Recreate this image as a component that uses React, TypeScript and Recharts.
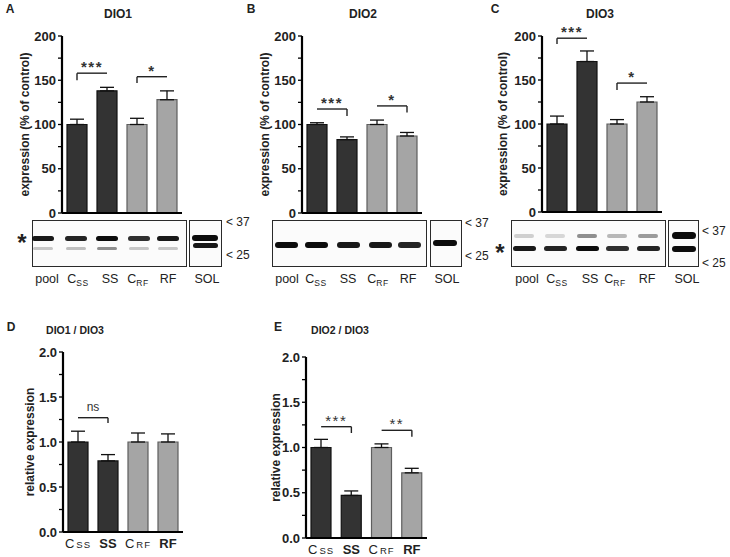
import React from 'react';
import { BarChart, Bar, XAxis, YAxis, Cell, ErrorBar, ReferenceLine } from 'recharts';

// ---------- data ----------
const groups = ['Css', 'SS', 'CRF', 'RF'];
const groupShade = ['dark', 'dark', 'light', 'light'];

const dio1Values = [100, 138, 100, 128];
const dio1Errors = [6, 4, 7, 10];
const dio2Values = [100, 83, 100, 87];
const dio2Errors = [2, 3, 5, 4];
const dio3Values = [100, 171, 100, 125];
const dio3Errors = [9, 12, 5, 6];
const dio1dio3Values = [1.0, 0.79, 1.0, 1.0];
const dio1dio3Errors = [0.12, 0.07, 0.1, 0.09];
const dio2dio3Values = [1.0, 0.47, 1.0, 0.72];
const dio2dio3Errors = [0.09, 0.05, 0.04, 0.05];

const percentTicks = [0, 25, 50, 75, 100, 125, 150, 175, 200];
const percentMajor = [0, 50, 100, 150, 200];
const ratioTicks = [0, 0.25, 0.5, 0.75, 1, 1.25, 1.5, 1.75, 2];
const ratioMajor = [0, 0.5, 1, 1.5, 2];

const dio1Brackets = [
  { from: 'Css', to: 'SS', y: 158, tickAt: 'Css', tickTo: 150, text: '***' },
  { from: 'CRF', to: 'RF', y: 154, tickAt: 'CRF', tickTo: 147, text: '*' },
];
const dio2Brackets = [
  { from: 'Css', to: 'SS', y: 117.5, tickAt: 'SS', tickTo: 109.5, text: '***' },
  { from: 'CRF', to: 'RF', y: 121, tickAt: 'RF', tickTo: 113.5, text: '*' },
];
const dio3Brackets = [
  { from: 'Css', to: 'SS', y: 197.5, tickAt: 'Css', tickTo: 191, text: '***' },
  { from: 'CRF', to: 'RF', y: 146.5, tickAt: 'CRF', tickTo: 138.5, text: '*' },
];
const dio1dio3Brackets = [
  { from: 'Css', to: 'SS', y: 1.27, tickAt: 'SS', tickTo: 1.21, text: 'ns' },
];
const dio2dio3Brackets = [
  { from: 'Css', to: 'SS', y: 1.23, tickAt: 'SS', tickTo: 1.16, text: '***' },
  { from: 'CRF', to: 'RF', y: 1.19, tickAt: 'RF', tickTo: 1.12, text: '**' },
];

// blot lane labels and relative band intensities
const blotLanes = ['pool', 'Css', 'SS', 'CRF', 'RF'];
const dio1UpperBand = [0.95, 0.9, 1.0, 0.85, 0.95];
const dio1LowerBand = [0.22, 0.25, 0.45, 0.22, 0.22];
const dio2Band = [1.0, 1.0, 0.95, 0.95, 0.9];
const dio3UpperBand = [0.18, 0.15, 0.45, 0.28, 0.4];
const dio3LowerBand = [0.95, 0.9, 1.0, 0.85, 0.9];

// ---------- styles ----------
const FONT = "'Liberation Sans', Arial, sans-serif";
const FILL = { dark: '#333333', light: '#a5a5a5' };
const STROKE = { dark: '#111111', light: '#5e5e5e' };

const YTick = (props: any) => {
  const { x, y, payload, majors, fmt } = props;
  const isMajor = majors.some((m: number) => Math.abs(m - payload.value) < 1e-6);
  if (!isMajor) return <g />;
  return (
    <text x={x} y={y} textAnchor="end" dominantBaseline="central" fontSize={13} fontWeight="bold" fill="#222">
      {fmt(payload.value)}
    </text>
  );
};

const GroupTick = (props: any) => {
  const { x, y, payload } = props;
  const v: string = payload.value;
  const by = y + 8;
  if (v === 'Css' || v === 'CRF') {
    return (
      <text x={x} y={by} textAnchor="middle" fill="#222">
        <tspan fontSize={13}>C</tspan>
        <tspan fontSize={9.5} dx={2} letterSpacing={1}>{v.slice(1).toUpperCase()}</tspan>
      </text>
    );
  }
  return (
    <text x={x} y={by} textAnchor="middle" fontSize={13} fontWeight="bold" fill="#222">
      {v}
    </text>
  );
};

function Panel(p: any) {
  const { values, errors, brackets, ticks, majors, fmt, domain, box, plot, yLabel, labelX, showGroupTicks, starWeight } = p;
  const data = groups.map((g, i) => ({ name: g, value: values[i], err: [0, errors[i]] }));
  const yw = 30;
  const xh = showGroupTicks ? 18 : 4;
  const margin = {
    top: plot.top - box.top,
    left: plot.left - box.left - yw,
    right: box.left + box.width - plot.right,
    bottom: box.top + box.height - plot.bottom - xh,
  };
  const lx = labelX - box.left;
  return (
    <div style={{ position: 'absolute', left: box.left, top: box.top }}>
      <BarChart width={box.width} height={box.height} data={data} margin={margin} barSize={20} barCategoryGap={0}>
        <XAxis
          dataKey="name"
          height={xh}
          interval={0}
          axisLine={{ stroke: '#000', strokeWidth: 2.2 }}
          tickLine={false}
          tick={showGroupTicks ? (tp: any) => <GroupTick {...tp} /> : false}
        />
        <YAxis
          width={yw}
          domain={domain}
          ticks={ticks}
          interval={0}
          allowDataOverflow
          axisLine={{ stroke: '#000', strokeWidth: 2.2 }}
          tickLine={{ stroke: '#000', strokeWidth: 1.3 }}
          tickSize={4}
          tickMargin={2}
          tick={(tp: any) => <YTick {...tp} majors={majors} fmt={fmt} />}
          label={(lp: any) => {
            const vb = lp.viewBox || {};
            const cy = vb.y + vb.height / 2;
            return (
              <text
                x={lx}
                y={cy}
                transform={`rotate(-90, ${lx}, ${cy})`}
                textAnchor="middle"
                dominantBaseline="central"
                fontSize={12}
                fontWeight="bold"
                fill="#222"
              >
                {yLabel}
              </text>
            );
          }}
        />
        <Bar dataKey="value" isAnimationActive={false}>
          {data.map((d, i) => (
            <Cell key={d.name} fill={FILL[groupShade[i]]} stroke={STROKE[groupShade[i]]} strokeWidth={1.2} />
          ))}
          <ErrorBar dataKey="err" direction="y" width={7} stroke="#111" strokeWidth={1.3} />
        </Bar>
        {brackets.map((b: any, i: number) => (
          <ReferenceLine
            key={'h' + i}
            segment={[{ x: b.from, y: b.y }, { x: b.to, y: b.y }]}
            stroke="#222"
            strokeWidth={1.4}
            label={(lp: any) => {
              const vb = lp.viewBox || {};
              const cx = vb.x + vb.width / 2;
              const isNs = b.text === 'ns';
              return (
                <text
                  x={cx}
                  y={vb.y - (isNs ? 7 : 1)}
                  textAnchor="middle"
                  fontSize={isNs ? 12 : 15}
                  fontWeight={isNs ? 'normal' : starWeight}
                  letterSpacing={isNs ? 0 : 1.5}
                  fill="#333"
                >
                  {b.text}
                </text>
              );
            }}
          />
        ))}
        {brackets.map((b: any, i: number) => (
          <ReferenceLine
            key={'v' + i}
            segment={[{ x: b.tickAt, y: b.y }, { x: b.tickAt, y: b.tickTo }]}
            stroke="#222"
            strokeWidth={1.4}
          />
        ))}
      </BarChart>
    </div>
  );
}

const Txt = (p: any) => (
  <div
    style={{
      position: 'absolute',
      left: p.x,
      top: p.y,
      transform: p.anchor === 'start' ? 'translate(0,-50%)' : 'translate(-50%,-50%)',
      whiteSpace: 'nowrap',
      lineHeight: 1,
      fontSize: p.size || 12,
      fontWeight: p.bold ? 'bold' : 'normal',
      color: p.color || '#222',
    }}
  >
    {p.children}
  </div>
);

const LaneLabel = ({ name }: { name: string }) => {
  if (name === 'Css' || name === 'CRF') {
    return (
      <span>
        C<span style={{ fontSize: 8.5, position: 'relative', top: 3, letterSpacing: 0.5 }}>{name.slice(1).toUpperCase()}</span>
      </span>
    );
  }
  return <span>{name}</span>;
};

const Band = ({ cx, cy, w, h, a }: any) => (
  <div
    style={{
      position: 'absolute',
      left: cx - w / 2,
      top: cy - h / 2,
      width: w,
      height: h,
      borderRadius: h / 2,
      background: `rgba(12,12,12,${a})`,
      filter: 'blur(0.7px)',
    }}
  />
);

function Blot(p: any) {
  const { box, sol, lanes, rows, solBands, labelXs, solLabelX, m37, m25, markerX, starAt } = p;
  const frame = (l: number, w: number) => (
    <div
      style={{
        position: 'absolute',
        left: l,
        top: box.top,
        width: w,
        height: box.height,
        border: '1.5px solid #2a2a2a',
        boxSizing: 'border-box',
        background: '#fbfbfb',
      }}
    />
  );
  return (
    <>
      {frame(box.left, box.width)}
      {frame(sol.left, sol.width)}
      {rows.map((r: any, ri: number) =>
        lanes.map((cx: number, li: number) => (
          <Band key={ri + '-' + li} cx={cx} cy={r.cy} w={r.w} h={r.h} a={r.intens[li]} />
        ))
      )}
      {solBands.map((b: any, i: number) => (
        <Band key={'s' + i} {...b} />
      ))}
      {blotLanes.map((n, i) => (
        <Txt key={n} x={labelXs[i]} y={279} size={12.5}>
          <LaneLabel name={n} />
        </Txt>
      ))}
      <Txt x={solLabelX} y={279} size={12.5}>SOL</Txt>
      <Txt x={markerX} y={m37} anchor="start" size={12}>&lt; 37</Txt>
      <Txt x={markerX} y={m25} anchor="start" size={12}>&lt; 25</Txt>
      {starAt && (
        <Txt x={starAt.x} y={starAt.y} size={24} bold>*</Txt>
      )}
    </>
  );
}

const pctFmt = (v: number) => String(v);
const ratioFmt = (v: number) => v.toFixed(1);

export default function App() {
  return (
    <div
      style={{
        position: 'absolute',
        left: 0,
        top: 0,
        width: 730,
        height: 557,
        background: '#fff',
        fontFamily: FONT,
        overflow: 'hidden',
      }}
    >
      {/* panel letters and titles */}
      <Txt x={10} y={9} bold size={12}>A</Txt>
      <Txt x={251} y={9} bold size={12}>B</Txt>
      <Txt x={495} y={9} bold size={12}>C</Txt>
      <Txt x={11} y={327} bold size={12}>D</Txt>
      <Txt x={278} y={327} bold size={12}>E</Txt>
      <Txt x={118} y={14} bold size={12}>DIO1</Txt>
      <Txt x={363} y={14} bold size={12}>DIO2</Txt>
      <Txt x={600} y={14} bold size={12}>DIO3</Txt>
      <Txt x={75} y={330} bold size={10.5}>DIO1 / DIO3</Txt>
      <Txt x={340} y={330} bold size={10.5}>DIO2 / DIO3</Txt>

      <Panel
        values={dio1Values}
        errors={dio1Errors}
        brackets={dio1Brackets}
        ticks={percentTicks}
        majors={percentMajor}
        fmt={pctFmt}
        domain={[0, 200]}
        box={{ left: 0, top: 0, width: 240, height: 225 }}
        plot={{ left: 62, right: 182, top: 36, bottom: 213 }}
        yLabel="expression (% of control)"
        labelX={25}
        showGroupTicks={false}
        starWeight="bold"
      />
      <Panel
        values={dio2Values}
        errors={dio2Errors}
        brackets={dio2Brackets}
        ticks={percentTicks}
        majors={percentMajor}
        fmt={pctFmt}
        domain={[0, 200]}
        box={{ left: 240, top: 0, width: 245, height: 225 }}
        plot={{ left: 302, right: 422, top: 36, bottom: 213 }}
        yLabel="expression (% of control)"
        labelX={265}
        showGroupTicks={false}
        starWeight="bold"
      />
      <Panel
        values={dio3Values}
        errors={dio3Errors}
        brackets={dio3Brackets}
        ticks={percentTicks}
        majors={percentMajor}
        fmt={pctFmt}
        domain={[0, 200]}
        box={{ left: 485, top: 0, width: 245, height: 225 }}
        plot={{ left: 542, right: 662, top: 36, bottom: 212 }}
        yLabel="expression (% of control)"
        labelX={503}
        showGroupTicks={false}
        starWeight="bold"
      />
      <Panel
        values={dio1dio3Values}
        errors={dio1dio3Errors}
        brackets={dio1dio3Brackets}
        ticks={ratioTicks}
        majors={ratioMajor}
        fmt={ratioFmt}
        domain={[0, 2]}
        box={{ left: 0, top: 340, width: 260, height: 217 }}
        plot={{ left: 63, right: 183, top: 352, bottom: 532 }}
        yLabel="relative expression"
        labelX={30}
        showGroupTicks={true}
        starWeight="normal"
      />
      <Panel
        values={dio2dio3Values}
        errors={dio2dio3Errors}
        brackets={dio2dio3Brackets}
        ticks={ratioTicks}
        majors={ratioMajor}
        fmt={ratioFmt}
        domain={[0, 2]}
        box={{ left: 260, top: 340, width: 270, height: 217 }}
        plot={{ left: 306, right: 427, top: 357, bottom: 538 }}
        yLabel="relative expression"
        labelX={276}
        showGroupTicks={true}
        starWeight="normal"
      />

      {/* western blots */}
      <Blot
        box={{ left: 32, top: 220, width: 155, height: 47 }}
        sol={{ left: 189, width: 33 }}
        lanes={[43, 76, 107, 139, 168]}
        rows={[
          { cy: 238, h: 5, w: 22, intens: dio1UpperBand },
          { cy: 248, h: 3, w: 20, intens: dio1LowerBand },
        ]}
        solBands={[
          { cx: 205, cy: 238, w: 26, h: 6, a: 1 },
          { cx: 205, cy: 245, w: 25, h: 5, a: 0.95 },
        ]}
        labelXs={[47, 78, 110, 138, 168]}
        solLabelX={207}
        markerX={226}
        m37={222}
        m25={255}
        starAt={{ x: 22, y: 243 }}
      />
      <Blot
        box={{ left: 272, top: 220, width: 155, height: 47 }}
        sol={{ left: 430, width: 32 }}
        lanes={[286, 316, 348, 380, 409]}
        rows={[{ cy: 245, h: 6, w: 23, intens: dio2Band }]}
        solBands={[{ cx: 445, cy: 243, w: 24, h: 6, a: 1 }]}
        labelXs={[287, 316, 348, 378, 408]}
        solLabelX={447}
        markerX={465}
        m37={223}
        m25={256}
      />
      <Blot
        box={{ left: 511, top: 220, width: 155, height: 47 }}
        sol={{ left: 668, width: 31 }}
        lanes={[524, 555, 587, 617, 648]}
        rows={[
          { cy: 236, h: 4, w: 20, intens: dio3UpperBand },
          { cy: 248, h: 5, w: 23, intens: dio3LowerBand },
        ]}
        solBands={[
          { cx: 684, cy: 235, w: 24, h: 7, a: 1 },
          { cx: 684, cy: 249, w: 24, h: 6, a: 1 },
        ]}
        labelXs={[527, 557, 590, 615, 647]}
        solLabelX={687}
        markerX={702}
        m37={231}
        m25={263}
        starAt={{ x: 500, y: 253 }}
      />
    </div>
  );
}
